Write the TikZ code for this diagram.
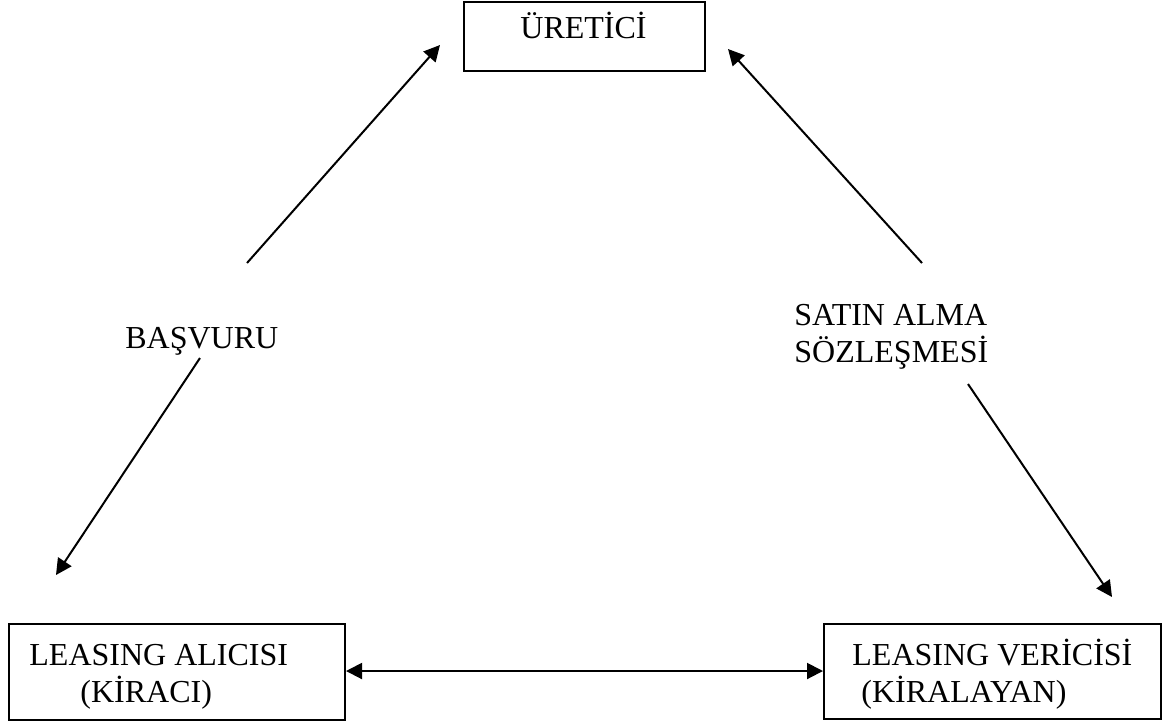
\documentclass[tikz,border=0pt]{standalone}
\usepackage{fontspec}
\setmainfont{Liberation Serif}
\usetikzlibrary{arrows.meta}
\tikzset{
  box/.style={draw, line width=1pt, inner sep=0pt, anchor=north west},
  lbl/.style={inner sep=0pt, anchor=base west, font=\fontsize{16pt}{18.5pt}\selectfont},
  conn/.style={line width=1pt, -{Triangle[length=8pt,width=8pt]}},
  dconn/.style={line width=1pt, {Triangle[length=8pt,width=8pt]}-{Triangle[length=8pt,width=8pt]}}
}
\begin{document}
\begin{tikzpicture}[x=0.5pt,y=-0.5pt]
\useasboundingbox (0,0) rectangle (1166,725);
% boxes
\node[box, minimum width=120.5pt, minimum height=34.5pt] (ur) at (463,1) {};
\node[box, minimum width=168pt, minimum height=48pt] (al) at (8,623) {};
\node[box, minimum width=168.5pt, minimum height=47.5pt] (ve) at (823,623) {};
% texts
\node[lbl] (urt) at (520,38) {ÜRETİCİ};
\node[lbl] (alt1) at (29,665) {LEASING ALICISI};
\node[lbl] (alt2) at (80,702) {(KİRACI)};
\node[lbl] (vet1) at (852,665) {LEASING VERİCİSİ};
\node[lbl] (vet2) at (861,702) {(KİRALAYAN)};
\node[lbl] (bas) at (125,348) {BAŞVURU};
\node[lbl] (sat1) at (794,325) {SATIN ALMA};
\node[lbl] (sat2) at (794,362) {SÖZLEŞMESİ};
% arrow ends
\coordinate (a1s) at (247,263);
\coordinate (a1e) at (440,45);
\coordinate (a2s) at (922,263);
\coordinate (a2e) at (728,49);
\coordinate (a3s) at (200,358);
\coordinate (a3e) at (56,575);
\coordinate (a4s) at (968,384);
\coordinate (a4e) at (1112,597);
% connectors
\draw[conn] (a1s) -- (a1e);
\draw[conn] (a2s) -- (a2e);
\draw[conn] (a3s) -- (a3e);
\draw[conn] (a4s) -- (a4e);
\draw[dconn] (al.east |- 0,671) -- (ve.west |- 0,671);
\end{tikzpicture}
\end{document}
